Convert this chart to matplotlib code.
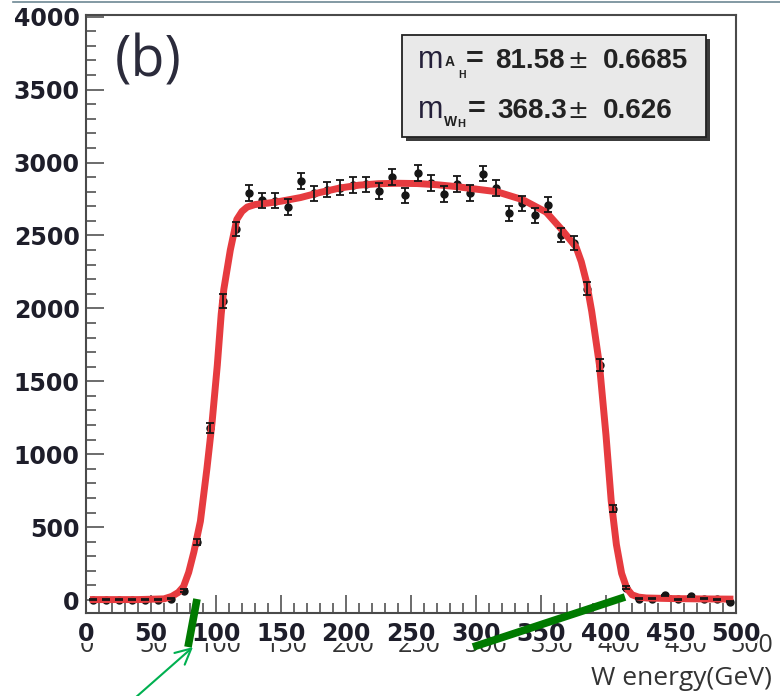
import numpy as np
import matplotlib
matplotlib.use('Agg')
import matplotlib.pyplot as plt
from matplotlib.patches import Rectangle, FancyArrowPatch
from matplotlib.lines import Line2D
from matplotlib.ticker import MultipleLocator

# --- data ---
bin_centres = np.arange(5, 500, 10)          # 10 GeV bins
counts = [3, 3, 3, 3, 3, 3, 8, 65, 400, 1177,
          2050, 2545, 2790, 2740, 2738, 2695, 2874, 2789, 2815, 2828,
          2846, 2850, 2805, 2901, 2776, 2930, 2858, 2785, 2852, 2792,
          2925, 2826, 2652, 2721, 2637, 2710, 2503, 2448, 2136, 1610,
          626, 85, 10, 8, 32, 4, 25, 8, 5, -12]
errors = np.sqrt(np.maximum(np.abs(counts), 1))  # poisson bars

# fitted curve, traced point by point
fit_x = [3, 20, 40, 60, 66, 71, 75, 79, 83, 88, 93, 97, 101, 104, 106, 111,
         116, 120, 124, 130, 140, 150, 165, 180, 195, 210, 225, 240, 255,
         270, 285, 300, 316, 336, 354, 366, 377, 381, 385, 389, 395, 400,
         404, 408, 412, 416, 420, 425, 431, 450, 470, 498]
fit_y = [3, 3, 3, 8, 25, 52, 92, 190, 330, 540, 900, 1220, 1610, 1960, 2130,
         2400, 2610, 2665, 2695, 2712, 2722, 2735, 2760, 2795, 2825, 2845,
         2855, 2858, 2856, 2848, 2835, 2818, 2800, 2745, 2660, 2540, 2420,
         2320, 2180, 1980, 1610, 1130, 680, 380, 183, 80, 36, 20, 14, 10, 8, 6]

xticks_major = [0, 50, 100, 150, 200, 250, 300, 350, 400, 450, 500]
stats_lines = [("A", "H", "81.58", "0.6685"), ("W", "H", "368.3", "0.626")]

W, H = 780, 696
fig = plt.figure(figsize=(W / 100, H / 100), dpi=100)


def fx(px):
    return px / W


def fy(py):
    return 1 - py / H


ax = fig.add_axes([fx(86), fy(613), 650 / W, 598 / H])
ax.set_zorder(2)

# markers sit under the fit line, the bars and caps over it
ax.plot(bin_centres, counts, 'o', color='#151515', ms=5, zorder=3)
ax.plot(fit_x, fit_y, color='#e63b3f', lw=5, solid_capstyle='butt',
        solid_joinstyle='round', zorder=4)
ax.errorbar(bin_centres, counts, yerr=errors, fmt='none', ecolor='#151515',
            capsize=3, elinewidth=1.3, capthick=1.3, zorder=5)

ax.set_xlim(0, 500)
ax.set_ylim(-89, 4012)
ax.xaxis.set_major_locator(MultipleLocator(50))
ax.xaxis.set_minor_locator(MultipleLocator(10))
ax.yaxis.set_major_locator(MultipleLocator(500))
ax.yaxis.set_minor_locator(MultipleLocator(100))
ax.tick_params(which='both', direction='in', colors='#444444', width=1.1,
               top=False, right=False, labelcolor='#1e1e2a')
ax.tick_params(which='major', length=13)
ax.tick_params(which='minor', length=7)
ax.tick_params(axis='y', pad=4.5)
ax.tick_params(axis='x', pad=6.5)
for lab in ax.get_xticklabels() + ax.get_yticklabels():
    lab.set_fontfamily('DejaVu Sans')
    lab.set_fontweight('bold')
    lab.set_fontsize(17)
for sp in ax.spines.values():
    sp.set_color('#4a4a4a')
    sp.set_linewidth(1.5)

# ghost row of labels from the pasted second axis, top part hidden
for v in xticks_major:
    fig.text(fx(87 + 1.33 * v), fy(652), str(v), ha='center', va='baseline',
             fontsize=18, family='Open Sans', color='#333333', zorder=1)
fig.patches.append(Rectangle((fx(0), fy(643)), fx(757), 29 / H,
                             transform=fig.transFigure, facecolor='white',
                             edgecolor='none', zorder=1.5))

fig.text(fx(772), fy(685), 'W energy(GeV)', ha='right', va='baseline',
         fontsize=19, family='Open Sans', color='#333333', zorder=3)

# (b) panel tag
fig.text(fx(115), fy(62), '(b)', ha='left', va='center', fontsize=40,
         family='Open Sans', color='#2b2b3b', zorder=3)

# stats box with shadow
fig.patches.append(Rectangle((fx(406), fy(141)), 304 / W, 102 / H,
                             transform=fig.transFigure, facecolor='#3c3c3c',
                             edgecolor='none', zorder=3))
fig.patches.append(Rectangle((fx(402), fy(137)), 304 / W, 102 / H,
                             transform=fig.transFigure, facecolor='#e9e9e9',
                             edgecolor='#222222', lw=1.3, zorder=3.1))
for i, (s1, s2, val, err) in enumerate(stats_lines):
    base = 68 + 50 * i
    txt = dict(family='Liberation Sans', color='#222222', va='baseline', zorder=4)
    fig.text(fx(418), fy(base), 'm', fontsize=22, color='#25203a',
             family='Liberation Sans', va='baseline', zorder=4)
    if i == 0:
        fig.text(fx(445), fy(base - 2), s1, fontsize=10, fontweight='bold', **txt)
        fig.text(fx(458), fy(base + 10), s2, fontsize=7.5, fontweight='bold', **txt)
    else:
        fig.text(fx(444), fy(base + 8), s1, fontsize=10, fontweight='bold', **txt)
        fig.text(fx(457), fy(base + 9), s2, fontsize=8, fontweight='bold', **txt)
    fig.text(fx(466 + 2 * i), fy(base), '=', fontsize=22, fontweight='bold', **txt)
    fig.text(fx(495 + 2 * i), fy(base), val, fontsize=20, fontweight='bold', **txt)
    fig.text(fx(567), fy(base), '\u00b1', fontsize=18, family='DejaVu Sans',
             color='#222222', va='baseline', zorder=4)
    fig.text(fx(603), fy(base), err, fontsize=20, fontweight='bold', **txt)

# green annotation strokes and arrow
for (x0, y0), (x1, y1) in [((188, 647), (197, 599)), ((473, 647), (625, 597))]:
    fig.add_artist(Line2D([fx(x0), fx(x1)], [fy(y0), fy(y1)], color='#007a00',
                          lw=5.5, solid_capstyle='butt',
                          transform=fig.transFigure, zorder=5))
fig.add_artist(FancyArrowPatch((fx(135), fy(698)), (fx(193), fy(647)),
                               transform=fig.transFigure, arrowstyle='->',
                               mutation_scale=28, color='#00b050', lw=1.5,
                               shrinkA=0, shrinkB=0, zorder=5))
# thin rule at the very top
fig.add_artist(Line2D([fx(13), fx(780)], [fy(2), fy(2)], color='#6d8794',
                      lw=1.2, transform=fig.transFigure, zorder=5))

fig.savefig('out.png', dpi=100)
